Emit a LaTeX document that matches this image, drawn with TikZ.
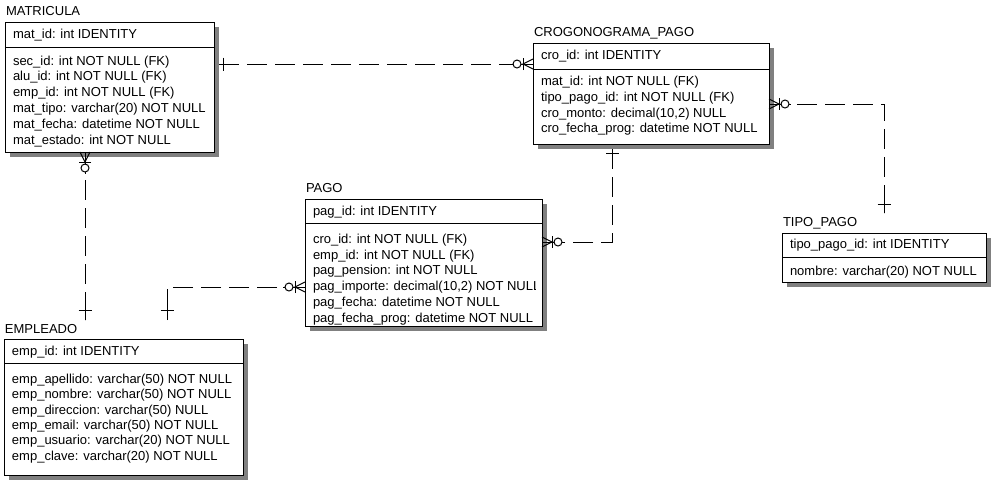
\documentclass[tikz,border=0pt]{standalone}
\usepackage{fontspec}
\setmainfont{Liberation Sans}
\usetikzlibrary{calc}
\newcommand{\mopt}[2]{%
  \begin{scope}[shift={(#1)}, rotate=#2]
    \draw[sol] (0,-5) -- (10,0) -- (0,5);
    \draw[sol] (0,0) -- (22,0);
    \draw[sol] (10,-6) -- (10,6);
    \draw[sol, fill=white] (16,0) circle (4pt);
  \end{scope}}
\newcommand{\oneend}[3]{%
  \begin{scope}[shift={(#1)}, rotate=#2]
    \draw[sol] (0,0) -- (18,0);
    \draw[sol] (#3,-6.5) -- (#3,6.5);
  \end{scope}}
\begin{document}
\begin{tikzpicture}[x=1pt,y=-1pt,
  tbl/.style={draw, line width=1pt, fill=white, anchor=north west, inner sep=0pt, outer sep=0pt},
  shd/.style={fill=black!50},
  txt/.style={anchor=base west, inner sep=0pt, outer sep=0pt, font=\fontsize{13}{15}\selectfont},
  rel/.style={line width=1pt, dash pattern=on 20pt off 8pt},
  sol/.style={line width=1pt}]
\fill[white] (0,0) rectangle (991,483);
\useasboundingbox (0,0) rectangle (991,483);

% ---------- MATRICULA
\node[tbl, minimum width=209pt, minimum height=130pt] (mat) at (5,22) {};
\fill[shd] ($(mat.north east)+(0.5,5)$) rectangle ($(mat.south east)+(5,5)$);
\fill[shd] ($(mat.south west)+(5,0.5)$) rectangle ($(mat.south east)+(5,5)$);
\draw[sol] ($(mat.north west)+(0,25)$) -- ($(mat.north east)+(0,25)$);
\node[txt] (mat-t) at (6,15.5) {MATRICULA};
\node[txt] (mat-pk) at (13,38) {mat\_id: int IDENTITY};
\foreach \t [count=\i] in {{sec\_id: int NOT NULL (FK)},{alu\_id: int NOT NULL (FK)},{emp\_id: int NOT NULL (FK)},{mat\_tipo: varchar(20) NOT NULL},{mat\_fecha: datetime NOT NULL},{mat\_estado: int NOT NULL}}
  \node[txt] (mat-f\i) at (13,{65+15.8*(\i-1)}) {\t};

% ---------- CROGONOGRAMA_PAGO
\node[tbl, minimum width=236pt, minimum height=101pt] (cro) at (533,43) {};
\fill[shd] ($(cro.north east)+(0.5,5)$) rectangle ($(cro.south east)+(5,5)$);
\fill[shd] ($(cro.south west)+(5,0.5)$) rectangle ($(cro.south east)+(5,5)$);
\draw[sol] ($(cro.north west)+(0,26)$) -- ($(cro.north east)+(0,26)$);
\node[txt] (cro-t) at (534,36) {CROGONOGRAMA\_PAGO};
\node[txt] (cro-pk) at (541,59) {cro\_id: int IDENTITY};
\foreach \t [count=\i] in {{mat\_id: int NOT NULL (FK)},{tipo\_pago\_id: int NOT NULL (FK)},{cro\_monto: decimal(10,2) NULL},{cro\_fecha\_prog: datetime NOT NULL}}
  \node[txt] (cro-f\i) at (541,{85.5+15.8*(\i-1)}) {\t};

% ---------- TIPO_PAGO
\node[tbl, minimum width=204pt, minimum height=49pt] (tp) at (782,233) {};
\fill[shd] ($(tp.north east)+(0.5,5)$) rectangle ($(tp.south east)+(5,5)$);
\fill[shd] ($(tp.south west)+(5,0.5)$) rectangle ($(tp.south east)+(5,5)$);
\draw[sol] ($(tp.north west)+(0,24)$) -- ($(tp.north east)+(0,24)$);
\node[txt] (tp-t) at (783,226.5) {TIPO\_PAGO};
\node[txt] (tp-pk) at (790,248.5) {tipo\_pago\_id: int IDENTITY};
\node[txt] (tp-f1) at (790,275) {nombre: varchar(20) NOT NULL};

% ---------- PAGO
\node[tbl, minimum width=237pt, minimum height=127pt] (pag) at (305,199) {};
\fill[shd] ($(pag.north east)+(0.5,5)$) rectangle ($(pag.south east)+(5,5)$);
\fill[shd] ($(pag.south west)+(5,0.5)$) rectangle ($(pag.south east)+(5,5)$);
\draw[sol] ($(pag.north west)+(0,24)$) -- ($(pag.north east)+(0,24)$);
\node[txt] (pag-t) at (306,192) {PAGO};
\node[txt] (pag-pk) at (313,215) {pag\_id: int IDENTITY};
\begin{scope}
\clip (306,224) rectangle (535,325);
\foreach \t [count=\i] in {{cro\_id: int NOT NULL (FK)},{emp\_id: int NOT NULL (FK)},{pag\_pension: int NOT NULL},{pag\_importe: decimal(10,2) NOT NULL},{pag\_fecha: datetime NOT NULL},{pag\_fecha\_prog: datetime NOT NULL}}
  \node[txt] (pag-f\i) at (313,{243.5+15.7*(\i-1)}) {\t};
\end{scope}

% ---------- EMPLEADO
\node[tbl, minimum width=239pt, minimum height=136pt] (emp) at (4,339) {};
\fill[shd] ($(emp.north east)+(0.5,5)$) rectangle ($(emp.south east)+(5,5)$);
\fill[shd] ($(emp.south west)+(5,0.5)$) rectangle ($(emp.south east)+(5,5)$);
\draw[sol] ($(emp.north west)+(0,24)$) -- ($(emp.north east)+(0,24)$);
\node[txt] (emp-t) at (5,333) {EMPLEADO};
\node[txt] (emp-pk) at (12,355) {emp\_id: int IDENTITY};
\foreach \t [count=\i] in {{emp\_apellido: varchar(50) NOT NULL},{emp\_nombre: varchar(50) NOT NULL},{emp\_direccion: varchar(50) NULL},{emp\_email: varchar(50) NOT NULL},{emp\_usuario: varchar(20) NOT NULL},{emp\_clave: varchar(20) NOT NULL}}
  \node[txt] (emp-f\i) at (12,{383.3+15.4*(\i-1)}) {\t};

% ---------- connectors
% MATRICULA -> CROGONOGRAMA_PAGO
\coordinate (c1s) at ($(mat.north east)+(5,42)$);
\coordinate (c1e) at ($(cro.north west)+(0,21)$);
\draw[rel] (c1s) -- (c1e);
\oneend{c1s}{0}{4}
\mopt{c1e}{180}

% CROGONOGRAMA_PAGO -> TIPO_PAGO
\coordinate (c2s) at ($(cro.north east)+(0,61)$);
\coordinate (c2e) at ($(tp.north west)+(102,-20)$);
\draw[rel] (c2s) -- (c2s -| c2e) -- (c2e);
\mopt{c2s}{0}
\oneend{c2e}{90}{9}

% MATRICULA -> EMPLEADO
\coordinate (c3s) at ($(mat.south west)+(80,0)$);
\coordinate (c3e) at ($(emp.north west)+(81,-19)$);
\draw[rel] (c3s) -- (c3e);
\mopt{c3s}{-90}
\oneend{c3e}{90}{10}

% PAGO -> EMPLEADO
\coordinate (c4s) at ($(pag.north west)+(0,88)$);
\coordinate (c4e) at ($(emp.north west)+(163,-19)$);
\draw[rel] (c4s) -- (c4s -| c4e) -- (c4e);
\mopt{c4s}{180}
\oneend{c4e}{90}{10}

% CROGONOGRAMA_PAGO -> PAGO
\coordinate (c5s) at ($(cro.south west)+(79,5)$);
\coordinate (c5e) at ($(pag.north east)+(0,43)$);
\draw[rel] (c5s) -- (c5s |- c5e) -- (c5e);
\oneend{c5s}{-90}{4}
\mopt{c5e}{0}
\end{tikzpicture}
\end{document}
